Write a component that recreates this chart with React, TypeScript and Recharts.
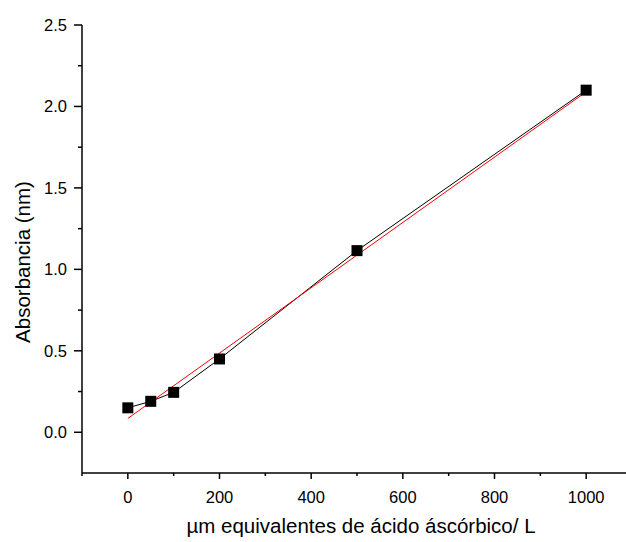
import React from "react";
import { LineChart, Line, XAxis, YAxis, Label } from "recharts";

// measured points (µm ascorbic acid eq / L vs absorbance)
const concentrations = [0, 50, 100, 200, 500, 1000];
const absorbances = [0.15, 0.19, 0.245, 0.45, 1.115, 2.1];

// linear fit endpoints
const fitX = [0, 1000];
const fitY = [0.085, 2.09];

const xTicks = [-100, 0, 100, 200, 300, 400, 500, 600, 700, 800, 900, 1000, 1100];
const yTicks = [0, 0.25, 0.5, 0.75, 1, 1.25, 1.5, 1.75, 2, 2.25, 2.5];

const measured = concentrations.map((x, i) => ({ x, y: absorbances[i] }));
const fitted = fitX.map((x, i) => ({ x, y: fitY[i] }));

const FONT = "'Liberation Sans', Arial, sans-serif";

function XTick({ x, y, payload }: any) {
  const major = payload.value % 200 === 0 && payload.value >= 0 && payload.value <= 1000;
  return (
    <g>
      <line x1={x} y1={y} x2={x} y2={y + (major ? 6 : 3)} stroke="#000" strokeWidth={1.5} />
      {major && (
        <text x={x} y={y + 24} textAnchor="middle" dominantBaseline="central" fontSize={16.5} fontFamily={FONT} fill="#000">
          {payload.value}
        </text>
      )}
    </g>
  );
}

function YTick({ x, y, payload }: any) {
  const major = Math.abs((payload.value * 2) % 1) < 1e-6;
  return (
    <g>
      <line x1={x} y1={y} x2={x - (major ? 8 : 4)} y2={y} stroke="#000" strokeWidth={1.5} />
      {major && (
        <text x={x - 15} y={y} textAnchor="end" dominantBaseline="central" fontSize={16.5} fontFamily={FONT} fill="#000">
          {payload.value.toFixed(1)}
        </text>
      )}
    </g>
  );
}

function SquareDot({ cx, cy }: any) {
  if (cx == null || cy == null) return null;
  return <rect x={cx - 5.5} y={cy - 5.5} width={11} height={11} fill="#000" />;
}

export default function App() {
  return (
    <div
      style={{
        position: "absolute",
        left: 0,
        top: 0,
        width: 626,
        height: 542,
        overflow: "hidden",
        background: "#fff",
      }}
    >
      <LineChart width={640} height={542} margin={{ top: 25, right: 8, bottom: 0, left: 0 }}>
        <XAxis
          dataKey="x"
          type="number"
          domain={[-100, 1100]}
          ticks={xTicks}
          interval={0}
          allowDataOverflow
          height={69}
          tickSize={0}
          tickMargin={0}
          tick={<XTick />}
          axisLine={{ stroke: "#000", strokeWidth: 1.5 }}
        >
          <Label
            content={() => (
              <text x={361} y={525} textAnchor="middle" dominantBaseline="central" fontSize={20.5} fontFamily={FONT} fill="#000">
                µm equivalentes de ácido áscórbico/ L
              </text>
            )}
          />
        </XAxis>
        <YAxis
          type="number"
          domain={[-0.25, 2.5]}
          ticks={yTicks}
          interval={0}
          allowDataOverflow
          width={82}
          tickSize={0}
          tickMargin={0}
          tick={<YTick />}
          axisLine={{ stroke: "#000", strokeWidth: 1.5 }}
        >
          <Label
            content={() => (
              <text
                x={22}
                y={262}
                transform="rotate(-90 22 262)"
                textAnchor="middle"
                dominantBaseline="central"
                fontSize={20.5}
                fontFamily={FONT}
                fill="#000"
              >
                Absorbancia (nm)
              </text>
            )}
          />
        </YAxis>
        <Line
          data={measured}
          dataKey="y"
          stroke="#000"
          strokeWidth={1}
          dot={<SquareDot />}
          activeDot={false}
          isAnimationActive={false}
        />
        <Line
          data={fitted}
          dataKey="y"
          stroke="#ff0000"
          strokeWidth={1}
          dot={false}
          activeDot={false}
          isAnimationActive={false}
        />
      </LineChart>
    </div>
  );
}
